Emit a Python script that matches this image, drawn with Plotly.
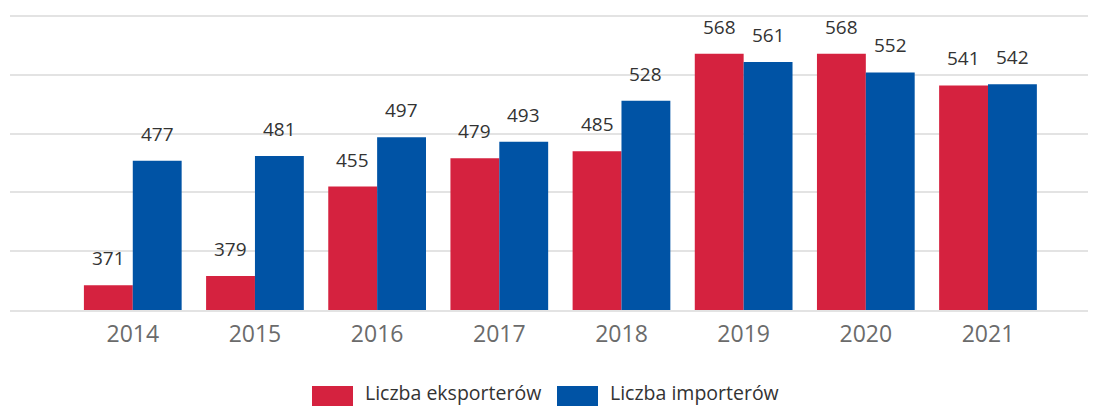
import plotly.graph_objects as go

lata = ['2014', '2015', '2016', '2017', '2018', '2019', '2020', '2021']
eksporterzy = [371, 379, 455, 479, 485, 568, 568, 541]
importerzy = [477, 481, 497, 493, 528, 561, 552, 542]
serie = ['Liczba eksporterów', 'Liczba importerów']
kolory = ['#d5223f', '#0053a5']

# strona ma 8px marginesu body, wiec figura jest o 8px mniejsza od okna
OFF = 8
W, H = 1096 - OFF, 406 - OFF
M_L, M_R, M_T, M_B = 10 - OFF, 0, 1, 96
X_RANGE = [-1.005, 7.884]
Y_RANGE = [350, 606]
BARGAP = 0.2
FONT = 'Open Sans, Noto Sans, sans-serif'

fig = go.Figure()
for nazwa, wartosci, kolor in zip(serie, [eksporterzy, importerzy], kolory):
    fig.add_trace(go.Bar(
        x=lata,
        y=wartosci,
        name=nazwa,
        marker=dict(color=kolor, line=dict(width=0)),
        showlegend=False,
    ))

# etykiety wartosci nad slupkami (wyzej niz standardowe 'outside')
plot_w = W - M_L - M_R
plot_h = H - M_T - M_B
px_na_kat = plot_w / (X_RANGE[1] - X_RANGE[0])
pol_slupka = (1 - BARGAP) / 2 * px_na_kat / 2
for k, wartosci in enumerate([eksporterzy, importerzy]):
    przes = -pol_slupka if k == 0 else pol_slupka
    for i, v in enumerate(wartosci):
        fig.add_annotation(
            x=i, y=v, xref='x', yref='y',
            text=str(v), showarrow=False,
            xshift=przes, yshift=12, yanchor='bottom',
            font=dict(family=FONT, size=19, color='#333333'),
        )


# legenda rysowana recznie (duze prostokaty jak w oryginale), wsp. w px strony
def px_x(p):
    return (p - OFF - M_L) / plot_w


def px_y(p):
    return (H - M_B - (p - OFF)) / plot_h


legenda = [(312, 353, 363), (557, 598, 608)]
for (x0, x1, xt), nazwa, kolor in zip(legenda, serie, kolory):
    fig.add_shape(
        type='rect', xref='paper', yref='paper',
        x0=px_x(x0), x1=px_x(x1), y0=px_y(386), y1=px_y(410),
        fillcolor=kolor, line=dict(width=0),
    )
    fig.add_annotation(
        x=px_x(xt), y=px_y(392), xref='paper', yref='paper',
        text=nazwa, showarrow=False, xanchor='left', yanchor='middle',
        font=dict(family=FONT, size=19.5, color='#333333'),
    )

fig.update_layout(
    width=W,
    height=H,
    margin=dict(l=M_L, r=M_R, t=M_T, b=M_B),
    paper_bgcolor='#ffffff',
    plot_bgcolor='#ffffff',
    barmode='group',
    bargap=BARGAP,
    bargroupgap=0,
    font=dict(family=FONT),
    xaxis=dict(
        type='category',
        range=X_RANGE,
        showgrid=False,
        showline=True,
        linecolor='#e3e3e3',
        linewidth=2,
        ticks='',
        ticklabelstandoff=2,
        tickfont=dict(family=FONT, size=23, color='#6b6b6b'),
    ),
    yaxis=dict(
        range=Y_RANGE,
        dtick=50,
        tick0=0,
        showticklabels=False,
        showgrid=True,
        gridcolor='#e3e3e3',
        gridwidth=2,
        zeroline=False,
        showline=False,
    ),
)

fig.write_html('out.html')
